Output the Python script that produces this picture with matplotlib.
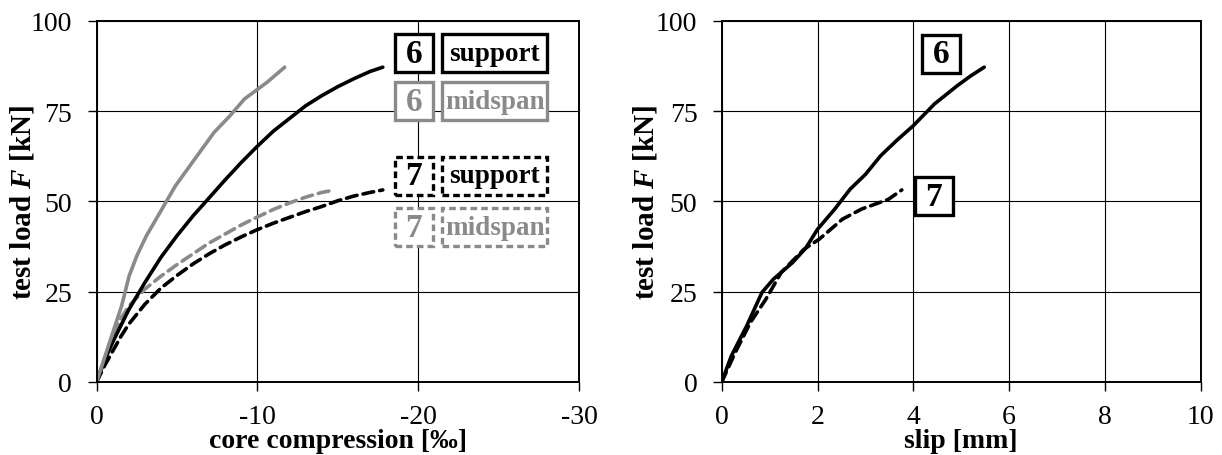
import matplotlib
matplotlib.use("Agg")
import matplotlib.pyplot as plt
from matplotlib.patches import Rectangle

# ---------------- data ----------------
# left: core compression [‰] vs test load F [kN]
s6_sup_x = [0, -0.5, -1.0, -2.0, -3.0, -4.0, -5.0, -6.0, -7.0, -8.0, -9.0, -10.0,
            -11.0, -12.0, -13.0, -14.0, -15.0, -16.0, -17.0, -17.8]
s6_sup_y = [0, 6.0, 11.0, 20.0, 27.5, 34.5, 40.5, 46.0, 51.0, 56.0, 60.8, 65.3,
            69.5, 73.0, 76.5, 79.3, 81.8, 84.0, 86.0, 87.2]
s6_mid_x = [0, -0.6, -1.08, -1.56, -2.03, -2.5, -3.1, -3.95, -4.9, -6.1, -7.3,
            -8.25, -9.2, -10.6, -11.7]
s6_mid_y = [0, 8.1, 14.6, 21.1, 29.4, 34.9, 40.5, 47.0, 54.3, 61.7, 69.1,
            73.5, 78.4, 83.0, 87.2]
s7_sup_x = [0, -0.5, -1.0, -1.5, -2.0, -3.0, -4.0, -5.0, -6.0, -7.0, -8.0, -9.0,
            -10.0, -11.0, -12.0, -13.0, -14.0, -15.0, -16.0, -17.0, -17.8]
s7_sup_y = [0, 4.5, 8.5, 12.5, 16.0, 21.5, 26.0, 29.5, 32.7, 35.5, 38.0, 40.2,
            42.2, 44.0, 45.6, 47.2, 48.6, 50.2, 51.5, 52.5, 53.2]
s7_mid_x = [0, -0.5, -1.0, -1.5, -2.0, -3.0, -4.0, -5.0, -6.0, -7.0, -8.0, -9.0,
            -10.0, -11.0, -12.0, -13.0, -14.0, -14.8]
s7_mid_y = [0, 6.5, 12.5, 17.5, 21.0, 25.7, 29.3, 32.5, 35.5, 38.5, 41.0, 43.5,
            45.7, 47.8, 49.6, 51.2, 52.5, 53.2]

# right: slip [mm] vs test load F [kN]
s6_slip_x = [0, 0.2, 0.52, 0.84, 1.08, 1.48, 1.75, 2.0, 2.36, 2.68, 3.0, 3.32,
             3.66, 4.0, 4.44, 4.92, 5.2, 5.48]
s6_slip_y = [0, 7.2, 15.5, 24.8, 28.5, 33.1, 37.0, 42.3, 47.9, 53.4, 57.5, 62.7,
             67.0, 71.0, 77.0, 82.1, 84.8, 87.2]
s7_slip_x = [0, 0.28, 0.6, 0.92, 1.24, 1.72, 2.04, 2.52, 2.92, 3.48, 3.76]
s7_slip_y = [0, 8.1, 16.5, 22.9, 30.3, 36.8, 39.6, 45.1, 47.9, 50.6, 53.2]

left_xticks = [0, -10, -20, -30]
right_xticks = [0, 2, 4, 6, 8, 10]
yticks = [0, 25, 50, 75, 100]

# ---------------- style ----------------
plt.rcParams['font.family'] = ['Liberation Serif', 'DejaVu Serif']
plt.rcParams['mathtext.fontset'] = 'custom'
plt.rcParams['mathtext.rm'] = 'Liberation Serif:bold'
plt.rcParams['mathtext.it'] = 'Liberation Serif:bold:italic'
plt.rcParams['mathtext.bf'] = 'Liberation Serif:bold'

GRAY = '#8a8a8a'
LW = 2.6
DASH = (0, (3.0, 1.7))

fig = plt.figure(figsize=(12.22, 4.56), dpi=100)
axL = fig.add_axes([0.0790, 0.1601, 0.3948, 0.7917])
axR = fig.add_axes([0.5906, 0.1601, 0.3920, 0.7917])


def style_axis(ax):
    ax.set_ylim(0, 100)
    ax.set_yticks(yticks)
    ax.grid(True, color='black', linewidth=0.8)
    ax.set_axisbelow(True)
    for sp in ax.spines.values():
        sp.set_linewidth(1.4)
        sp.set_color('black')
    ax.tick_params(direction='out', length=6.5, width=1.0, pad=11, labelsize=20)
    ax.tick_params(axis='x', pad=9)
    ax.set_ylabel('test load $\\mathit{F}$ [kN]', fontsize=21, fontweight='bold',
                  va='center')


style_axis(axL)
axL.set_xlim(0, -30)
axL.set_xticks(left_xticks)
axL.set_xticklabels([str(v) for v in left_xticks])
axL.plot(s7_mid_x, s7_mid_y, color=GRAY, lw=LW, ls=DASH, dash_capstyle='round')
axL.plot(s7_sup_x, s7_sup_y, color='black', lw=LW, ls=DASH, dash_capstyle='round')
axL.plot(s6_sup_x, s6_sup_y, color='black', lw=LW, solid_capstyle='round')
axL.plot(s6_mid_x, s6_mid_y, color=GRAY, lw=LW, solid_capstyle='round')
axL.set_xlabel('core compression [‰]', fontsize=20, fontweight='bold', va='baseline')
axL.xaxis.set_label_coords(0.5, -0.180)
axL.yaxis.set_label_coords(-0.154, 0.5)

style_axis(axR)
axR.set_xlim(0, 10)
axR.set_xticks(right_xticks)
axR.plot(s7_slip_x, s7_slip_y, color='black', lw=LW, ls=DASH, dash_capstyle='round')
axR.plot(s6_slip_x, s6_slip_y, color='black', lw=LW, solid_capstyle='round')
axR.set_xlabel('slip [mm]', fontsize=20, fontweight='bold', va='baseline')
axR.xaxis.set_label_coords(0.5, -0.180)
axR.yaxis.set_label_coords(-0.160, 0.5)


def box(ax, cx, cy, w, h, text, color, dashed, fs):
    ls = (0, (2.0, 1.2)) if dashed else '-'
    r = Rectangle((cx - w / 2, cy - h / 2), w, h, transform=ax.transAxes,
                  facecolor='white', edgecolor=color, linewidth=2.4, linestyle=ls,
                  zorder=5, clip_on=False)
    ax.add_patch(r)
    ax.text(cx, cy, text, transform=ax.transAxes, ha='center', va='center',
            color=color, fontsize=fs, fontweight='bold', zorder=6)


# legend-like boxes (left)
nw, ww, bh = 0.0788, 0.2176, 0.105
rows = [(0.911, '6', 'support', 'black', False),
        (0.778, '6', 'midspan', GRAY, False),
        (0.571, '7', 'support', 'black', True),
        (0.429, '7', 'midspan', GRAY, True)]
for cy, num, word, col, dsh in rows:
    box(axL, 0.658, cy, nw, bh, num, col, dsh, 24)
    box(axL, 0.825, cy, ww, bh, word, col, dsh, 19.5)

# right plot labels
box(axR, 0.458, 0.909, 0.0793, 0.105, '6', 'black', False, 24)
box(axR, 0.443, 0.515, 0.0793, 0.105, '7', 'black', False, 24)

fig.savefig('out.png', dpi=100)
